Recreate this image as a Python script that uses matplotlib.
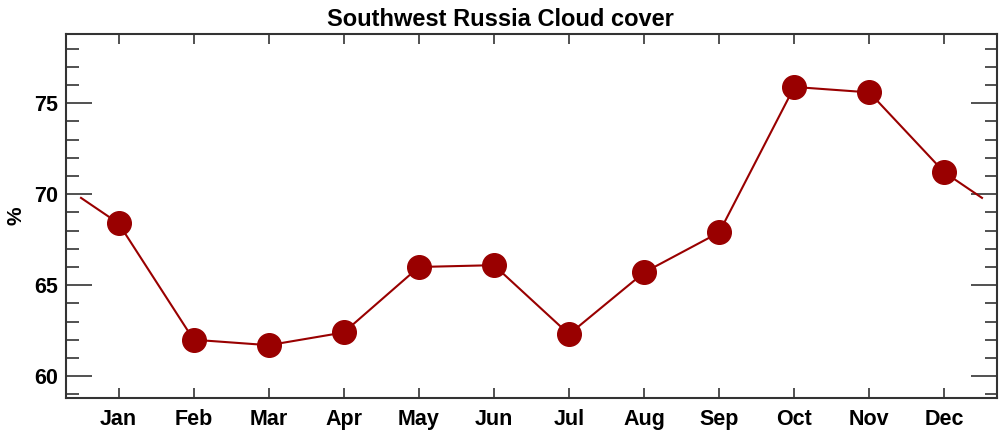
import matplotlib
matplotlib.use("Agg")
import matplotlib.pyplot as plt
import numpy as np
from matplotlib.ticker import MultipleLocator

months = ["Jan", "Feb", "Mar", "Apr", "May", "Jun", "Jul", "Aug", "Sep", "Oct", "Nov", "Dec"]
cloud = [68.4, 62.0, 61.7, 62.4, 66.0, 66.1, 62.3, 65.7, 67.9, 75.9, 75.6, 71.2]
yticks = [60, 65, 70, 75]

plt.rcParams['font.family'] = ['Liberation Sans', 'DejaVu Sans']
plt.rcParams['font.weight'] = 'bold'

fig = plt.figure(figsize=(10, 4.33), dpi=100)
ax = fig.add_axes([0.066, 0.081, 0.931, 0.840])

x = np.arange(1, 13)
wrap = (cloud[0] + cloud[-1]) / 2
lx = np.concatenate([[0.5], x, [12.5]])
ly = np.concatenate([[wrap], cloud, [wrap]])
col = "#990000"
ax.plot(lx, ly, color=col, lw=1.5, zorder=2)
ax.plot(x, cloud, 'o', color=col, ms=17, mec=col, zorder=3)

ax.set_xlim(0.3, 12.7)
ax.set_ylim(58.8, 78.8)
ax.set_xticks(x)
ax.set_xticklabels(months, fontsize=15.5, fontweight='bold')
ax.set_yticks(yticks)
ax.set_yticklabels([str(v) for v in yticks], fontsize=15.5, fontweight='bold')
ax.yaxis.set_minor_locator(MultipleLocator(1))
ax.tick_params(axis='x', which='major', direction='in', length=7, width=1.2, top=True, bottom=True, pad=8, colors='#333333', labelcolor='black')
ax.tick_params(axis='y', which='major', direction='in', length=19, width=1.2, left=True, right=True, pad=6, colors='#333333', labelcolor='black')
ax.tick_params(axis='y', which='minor', direction='in', length=9, width=1.2, left=True, right=True, colors='#333333')
for s in ax.spines.values():
    s.set_linewidth(1.5)
    s.set_color('#333333')
ax.set_ylabel("%", fontsize=15, fontweight='bold', labelpad=6)
fig.text(0.5, 0.955, "Southwest Russia Cloud cover", fontsize=17, fontweight='bold', ha='center', va='center')

fig.savefig("out.png", dpi=100)
